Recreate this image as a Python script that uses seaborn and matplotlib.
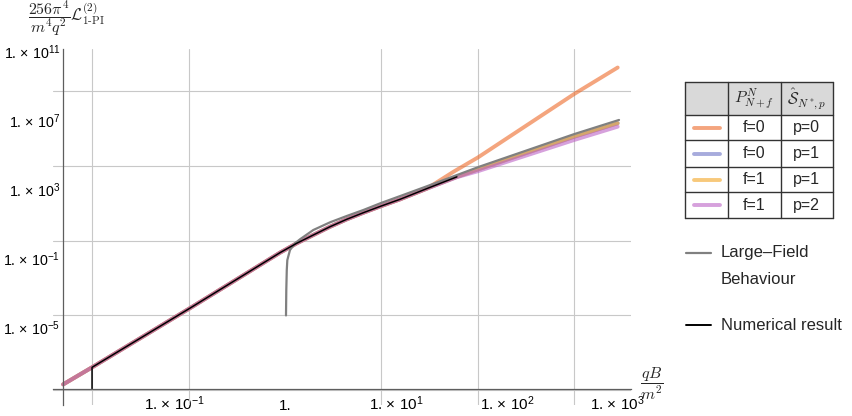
import numpy as np
import matplotlib
matplotlib.use("Agg")
import matplotlib.pyplot as plt
from matplotlib.ticker import NullFormatter
from matplotlib.patches import Rectangle
import seaborn as sns

# values, stored as log10 exponents
# weak-field part that all four approximants share
shared_log_qb = [-2.0, -1.74, -0.86, -0.045, 0.105, 0.255, 0.406, 0.556, 0.706, 0.866, 1.037, 1.28]
shared_log_L = [-8.35, -7.36, -3.93, -0.69, -0.146, 0.337, 0.82, 1.25, 1.634, 2.02, 2.414, 3.04]

# where the approximants split up
f0p0_tail_log_qb = [1.52, 1.74, 2.61, 3.0]
f0p0_tail_log_L = [4.02, 4.85, 8.55, 10.08]
tail_log_qb = [1.55, 1.74, 2.61, 3.0]
f0p1_tail_log_L = [3.72, 4.15, 6.06, 6.84]
f1p1_tail_log_L = [3.72, 4.15, 6.06, 6.84]
f1p2_tail_log_L = [3.70, 4.05, 5.87, 6.64]

# large-field behaviour
large_log_qb = [0.009, 0.0117, 0.016, 0.021, 0.045, 0.09, 0.135, 0.255, 0.406, 0.556,
                0.706, 0.866, 1.037, 1.278, 1.752, 2.609, 3.012]
large_log_L = [-4.34, -2.86, -1.70, -1.12, -0.536, -0.146, 0.087, 0.628, 1.076, 1.442,
               1.791, 2.2, 2.6, 3.17, 4.31, 6.21, 7.03]

# numerical result (first point sits on the axis)
num_log_qb = [-1.74, -1.74, -0.86, -0.045, 0.105, 0.255, 0.406, 0.556, 0.706, 0.866, 1.037, 1.28, 1.55]
num_log_L = [-8.6, -7.36, -3.93, -0.69, -0.146, 0.337, 0.82, 1.25, 1.634, 2.02, 2.414, 3.04, 3.72]

x_tick_exp = [-1, 0, 1, 2, 3]
y_tick_exp = [-5, -1, 3, 7, 11]

pade_labels = [("f=0", "p=0"), ("f=0", "p=1"), ("f=1", "p=1"), ("f=1", "p=2")]
pade_colors = ["#ed6928", "#6c73c5", "#f3a523", "#bc62c5"]

sns.set_style("white")
plt.rcParams["font.family"] = ["Liberation Sans", "DejaVu Sans"]
plt.rcParams["mathtext.fontset"] = "custom"
plt.rcParams["mathtext.rm"] = "Liberation Sans"
plt.rcParams["mathtext.it"] = "Liberation Sans:italic"
plt.rcParams["mathtext.bf"] = "Liberation Sans:bold"

fig = plt.figure(figsize=(8.52, 4.16), dpi=100)
ax = fig.add_axes([53 / 852, 11 / 416, 578 / 852, 356 / 416])
ax.set_xscale("log")
ax.set_yscale("log")

tails = [(f0p0_tail_log_qb, f0p0_tail_log_L), (tail_log_qb, f0p1_tail_log_L),
         (tail_log_qb, f1p1_tail_log_L), (tail_log_qb, f1p2_tail_log_L)]
for (tx, ty), col in zip(tails, pade_colors):
    lx = np.array(shared_log_qb + tx)
    ly = np.array(shared_log_L + ty)
    sns.lineplot(x=10 ** lx, y=10 ** ly, ax=ax, color=col, lw=2.8, alpha=0.6,
                 estimator=None, sort=False, solid_capstyle="round")

sns.lineplot(x=10 ** np.array(large_log_qb), y=10 ** np.array(large_log_L), ax=ax,
             color="#808080", lw=1.6, estimator=None, sort=False)
sns.lineplot(x=10 ** np.array(num_log_qb), y=10 ** np.array(num_log_L), ax=ax,
             color="black", lw=1.1, estimator=None, sort=False)

ax.set_xlim(10 ** -2.092, 10 ** 3.12)
ax.set_ylim(10 ** -9.55, 10 ** 11.157)

for s in ["top", "right"]:
    ax.spines[s].set_visible(False)
ax.spines["left"].set_position(("data", 0.01))
ax.spines["bottom"].set_position(("data", 10 ** -8.6))
for s in ["left", "bottom"]:
    ax.spines[s].set_color("#5e5e5e")
    ax.spines[s].set_linewidth(0.9)


def sci(e):
    return "1." if e == 0 else "1. × 10$^{%d}$" % e


ax.set_xticks([10.0 ** e for e in x_tick_exp], labels=[sci(e) for e in x_tick_exp])
ax.set_yticks([10.0 ** e for e in y_tick_exp], labels=[sci(e) for e in y_tick_exp])
# Mathematica puts its grid at powers of e
ax.set_xticks(np.exp([-4, -2, 0, 2, 4, 6]), minor=True)
ax.set_yticks(np.exp([-20, -10, 0, 10, 20]), minor=True)
ax.xaxis.set_minor_formatter(NullFormatter())
ax.yaxis.set_minor_formatter(NullFormatter())
ax.tick_params(which="major", direction="in", length=4, width=0.8, color="#5e5e5e",
               labelsize=11, labelcolor="black", pad=15)
ax.tick_params(axis="y", labelsize=10.3, pad=2)
ax.tick_params(which="minor", length=0)
# x labels sit on a common baseline, like "1." next to "1. x 10^1"
plt.setp(ax.get_xticklabels(), va="baseline")
ax.grid(which="minor", color="#c8c8c8", lw=0.8)
ax.grid(which="major", visible=False)
ax.set_xlabel("")
ax.set_ylabel("")

# overlay in pixel coordinates for labels and legend
ov = fig.add_axes([0, 0, 1, 1])
ov.set_xlim(0, 852)
ov.set_ylim(416, 0)
ov.axis("off")

ov.text(66, 19, r"$\dfrac{256\pi^4}{m^4q^2}\mathcal{L}^{(2)}_{\mathrm{1\text{-}PI}}$",
        math_fontfamily="cm", fontsize=11.5, ha="center", va="center")
ov.text(652, 384, r"$\dfrac{qB}{m^2}$", math_fontfamily="cm", fontsize=11.5,
        ha="center", va="center")

# legend table
col_x = [685, 727.7, 781, 832.7]
row_y = [81.7, 115, 140.3, 166.7, 192.3, 218.3]
ov.add_patch(Rectangle((col_x[0], row_y[0]), col_x[-1] - col_x[0], row_y[1] - row_y[0],
                       facecolor="#d9d9d9", edgecolor="none"))
for x in col_x:
    ov.plot([x, x], [row_y[0], row_y[-1]], color="#333333", lw=1.0)
for y in row_y:
    ov.plot([col_x[0], col_x[-1]], [y, y], color="#333333", lw=1.0)
ov.text((col_x[1] + col_x[2]) / 2, (row_y[0] + row_y[1]) / 2, r"$P^N_{N+f}$",
        math_fontfamily="cm", fontsize=11.5, ha="center", va="center")
ov.text((col_x[2] + col_x[3]) / 2, (row_y[0] + row_y[1]) / 2, r"$\hat{\mathcal{S}}_{N^*\!,p}$",
        math_fontfamily="cm", fontsize=11.5, ha="center", va="center")
for i, ((fl, pl), col) in enumerate(zip(pade_labels, pade_colors)):
    yc = (row_y[i + 1] + row_y[i + 2]) / 2
    ov.plot([694, 720], [yc, yc], color=col, lw=2.8, alpha=0.6, solid_capstyle="round")
    ov.text((col_x[1] + col_x[2]) / 2, yc, fl, fontsize=11.5, ha="center", va="center")
    ov.text((col_x[2] + col_x[3]) / 2, yc, pl, fontsize=11.5, ha="center", va="center")

ov.plot([686, 711], [252.7, 252.7], color="#808080", lw=1.6)
ov.text(721, 252.7, "Large–Field", fontsize=12, va="center")
ov.text(721, 280, "Behaviour", fontsize=12, va="center")
ov.plot([686, 711], [325, 325], color="black", lw=1.4)
ov.text(721, 325, "Numerical result", fontsize=12, va="center")

fig.savefig("out.png", dpi=100)
